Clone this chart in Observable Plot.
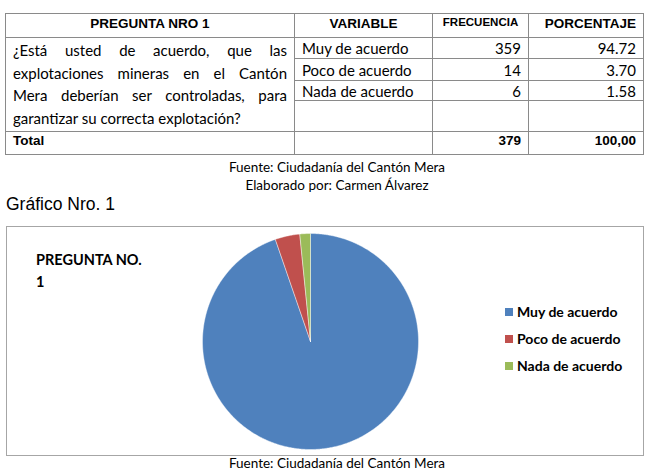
<!DOCTYPE html>
<html>
<head>
<meta charset="utf-8">
<script src="https://cdn.jsdelivr.net/npm/d3@7"></script>
<script src="https://cdn.jsdelivr.net/npm/@observablehq/plot@0.6"></script>
<style>
  body { margin:0; background:#fff; width:650px; height:471px; overflow:hidden; position:relative; font-family: Lato, "Open Sans", sans-serif; color:#000; }
  #tbl { position:absolute; left:5px; top:13px; border-collapse:collapse; table-layout:fixed; }
  #tbl td { border:1px solid #8a8a8a; padding:0 7px; font-size:15px; white-space:nowrap; }
  #tbl .hd { font-family:"Liberation Sans", Arial, sans-serif; font-weight:bold; text-align:center; vertical-align:top; padding-top:2px; font-size:13.5px; }
  #tbl .num { text-align:right; }
  #tbl .tot { font-family:"Liberation Sans", Arial, sans-serif; font-weight:bold; font-size:13.5px; vertical-align:top; padding-top:1px; }
  .q { white-space:normal !important; vertical-align:top; padding-top:1px !important; }
  .q div { line-height:22.7px; text-align:justify; text-align-last:justify; }
  .q div.last { text-align-last:left; }
  .cap { position:absolute; left:0; width:674px; text-align:center; font-size:13.5px; line-height:16px; }
  #graf { position:absolute; left:6px; top:194px; font-family:"Liberation Sans", Arial, sans-serif; font-size:17.5px; }
  #chart { position:absolute; left:6px; top:226px; width:636px; height:228px; border:1px solid #a6a6a6; }
  #chart svg { position:absolute; left:0; top:0; }
  #ctitle { position:absolute; left:29px; top:22px; font-weight:bold; font-size:14.5px; line-height:22px; }
  #legend { position:absolute; left:498px; top:71px; font-weight:bold; font-size:14px; }
  #legend .it { height:27px; display:flex; align-items:center; }
  #legend .sw { width:8px; height:8px; margin-right:4px; }
</style>
</head>
<body>
<script>
// ---- data ----
const pregunta = ["¿Está usted de acuerdo, que las", "explotaciones mineras en el Cantón", "Mera deberían ser controladas, para", "garantizar su correcta explotación?"];
const headers = ["PREGUNTA NRO 1", "VARIABLE", "FRECUENCIA", "PORCENTAJE"];
const categories = ["Muy de acuerdo", "Poco de acuerdo", "Nada de acuerdo"];
const frecuencia = [359, 14, 6];
const porcentaje = ["94.72", "3.70", "1.58"];
const totalLabel = "Total";
const totalFrecuencia = "379";
const totalPorcentaje = "100,00";
const fuente = "Fuente: Ciudadanía del Cantón Mera";
const elaborado = "Elaborado por: Carmen Álvarez";
const graficoTitulo = "Gráfico Nro. 1";
const chartTitle = ["PREGUNTA NO.", "1"];
const colors = ["#4F81BD", "#C0504D", "#9BBB59"];

// ---- table ----
const widths = [289, 138, 96, 115];
const rowH = [24, 21, 22, 20, 31, 23];
let html = '<table id="tbl"><colgroup>' + widths.map(w => `<col style="width:${w}px">`).join("") + '</colgroup>';
html += `<tr style="height:${rowH[0]}px">` + headers.map((h, i) => `<td class="hd" style="${i===2?'font-size:11.5px;':''}${i===3?'text-align:right;':''}">${h}</td>`).join("") + "</tr>";
categories.forEach((c, i) => {
  html += `<tr style="height:${rowH[i+1]}px">`;
  if (i === 0) html += `<td class="q" rowspan="4">` + pregunta.map((l, j) => `<div class="${j===pregunta.length-1?'last':''}">${l}</div>`).join("") + "</td>";
  html += `<td>${c}</td><td class="num">${frecuencia[i]}</td><td class="num">${porcentaje[i]}</td></tr>`;
});
html += `<tr style="height:${rowH[4]}px"><td></td><td></td><td></td></tr>`;
html += `<tr style="height:${rowH[5]}px"><td class="tot">${totalLabel}</td><td></td><td class="tot num">${totalFrecuencia}</td><td class="tot num">${totalPorcentaje}</td></tr></table>`;
document.body.insertAdjacentHTML("beforeend", html);

document.body.insertAdjacentHTML("beforeend",
  `<div class="cap" style="top:159px">${fuente}</div>` +
  `<div class="cap" style="top:177px">${elaborado}</div>` +
  `<div id="graf">${graficoTitulo}</div>` +
  `<div class="cap" style="top:455px">${fuente}</div>`);

// ---- pie ----
const chart = document.createElement("div");
chart.id = "chart";
document.body.appendChild(chart);

const total = d3.sum(frecuencia);
const pts = [];
let acc = 0;
categories.forEach((c, i) => {
  const a0 = acc / total * 2 * Math.PI;
  acc += frecuencia[i];
  const a1 = acc / total * 2 * Math.PI;
  pts.push({cat: c, x: 0, y: 0});
  const n = Math.max(2, Math.ceil((a1 - a0) / (Math.PI / 360)));
  for (let k = 0; k <= n; k++) {
    const a = a0 + (a1 - a0) * k / n;
    pts.push({cat: c, x: Math.sin(a), y: Math.cos(a)});
  }
  pts.push({cat: c, x: 0, y: 0});
});

const cx = 303, cy = 114, r = 108;
const svg = Plot.plot({
  width: 636, height: 228,
  margin: 0,
  x: {domain: [-1, 1], range: [cx - r, cx + r], axis: null},
  y: {domain: [-1, 1], range: [cy + r, cy - r], axis: null},
  color: {domain: categories, range: colors},
  style: {background: "transparent"},
  marks: [
    Plot.line(pts, {x: "x", y: "y", z: "cat", fill: "cat", stroke: "#ffffff", strokeWidth: 0.6, strokeOpacity: 0.7, curve: "linear"})
  ]
});
chart.appendChild(svg);

chart.insertAdjacentHTML("beforeend",
  `<div id="ctitle">${chartTitle.join("<br>")}</div>` +
  `<div id="legend">` + categories.map((c, i) => `<div class="it"><span class="sw" style="background:${colors[i]}"></span>${c}</div>`).join("") + `</div>`);
</script>
</body>
</html>
